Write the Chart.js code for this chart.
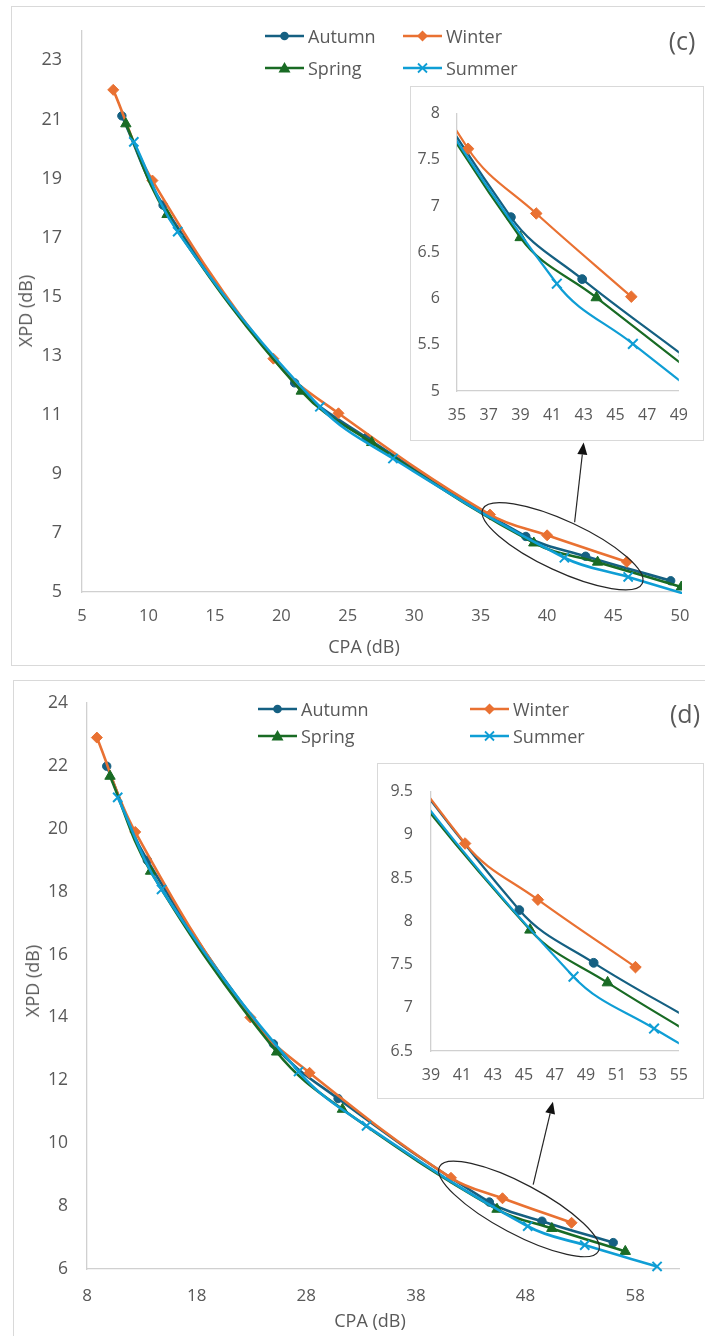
<!DOCTYPE html>
<html>
<head>
<meta charset="utf-8">
<script src="https://cdn.jsdelivr.net/npm/chart.js@4.4.1/dist/chart.umd.min.js"></script>
<style>
  body { margin: 0; width: 705px; height: 1336px; position: relative; overflow: hidden; background: #fff;
         font-family: "Open Sans", sans-serif; color: #595959; }
  .frame { position: absolute; border: 1px solid #d9d9d9; box-sizing: border-box; }
  .inset { position: absolute; background: #fff; border: 1px solid #d9d9d9; box-sizing: border-box; }
  canvas { position: absolute; }
  .leg { position: absolute; display: flex; align-items: center; height: 24px; font-size: 18px; white-space: nowrap; }
  .leg svg { margin-right: 4px; }
  .ttl { position: absolute; font-size: 18px; white-space: nowrap; transform: translate(-50%, -50%); }
  .ttl.rot { transform: translate(-50%, -50%) rotate(-90deg); }
  .tag { position: absolute; font-size: 25px; transform: translate(-50%, -50%); }
</style>
</head>
<body>
<div class="frame" style="left:11px;top:6px;width:720px;height:660px"></div>
<canvas id="cMain" width="705" height="668" style="left:0;top:0"></canvas>
<div class="inset" style="left:410px;top:86px;width:294px;height:355px">
  <canvas id="cInset" width="292" height="353" style="left:0;top:0"></canvas>
</div>

<div class="frame" style="left:13px;top:680px;width:720px;height:700px"></div>
<canvas id="dMain" width="705" height="666" style="left:0;top:670px"></canvas>
<div class="inset" style="left:377px;top:763px;width:327px;height:336px">
  <canvas id="dInset" width="325" height="334" style="left:0;top:0"></canvas>
</div>

<div class="ttl" style="left:364px;top:646px">CPA (dB)</div>
<div class="ttl rot" style="left:25px;top:311px">XPD (dB)</div>
<div class="tag" style="left:682px;top:40px">(c)</div>

<div class="ttl" style="left:370px;top:1320px">CPA (dB)</div>
<div class="ttl rot" style="left:32px;top:981px">XPD (dB)</div>
<div class="tag" style="left:685px;top:713px">(d)</div>

<script>
// ---- panel (c) ----
const cAutumnCpa = [8.0, 11.1, 21.0, 26.4, 38.4, 42.9, 49.3];
const cAutumnXpd = [21.12, 18.1, 12.08, 10.23, 6.88, 6.21, 5.38];
const cWinterCpa = [7.35, 10.3, 19.4, 24.3, 35.7, 40.0, 46.0];
const cWinterXpd = [22.0, 18.93, 12.9, 11.05, 7.62, 6.92, 6.02];
const cSpringCpa = [8.3, 11.4, 21.5, 26.8, 39.0, 43.8, 50.1];
const cSpringXpd = [20.85, 17.78, 11.8, 10.06, 6.66, 6.01, 5.17];
const cSummerCpa = [8.9, 12.2, 22.9, 28.4, 41.3, 46.1, 51.0];
const cSummerXpd = [20.24, 17.2, 11.27, 9.52, 6.16, 5.51, 4.85];

const cXTicks = [5, 10, 15, 20, 25, 30, 35, 40, 45, 50];
const cYTicks = [5, 7, 9, 11, 13, 15, 17, 19, 21, 23];
const cInsetXTicks = [35, 37, 39, 41, 43, 45, 47, 49];
const cInsetYTicks = [5, 5.5, 6, 6.5, 7, 7.5, 8];

// ---- panel (d) ----
const dAutumnCpa = [9.8, 13.5, 25.0, 30.9, 44.7, 49.5, 56.0];
const dAutumnXpd = [21.99, 19.0, 13.16, 11.42, 8.13, 7.52, 6.84];
const dWinterCpa = [8.9, 12.4, 22.9, 28.3, 41.2, 45.9, 52.2];
const dWinterXpd = [22.9, 19.9, 14.0, 12.24, 8.9, 8.25, 7.47];
const dSpringCpa = [10.1, 13.8, 25.3, 31.3, 45.4, 50.4, 57.1];
const dSpringXpd = [21.67, 18.65, 12.9, 11.08, 7.9, 7.29, 6.56];
const dSummerCpa = [10.8, 14.8, 27.3, 33.5, 48.2, 53.4, 60.0];
const dSummerXpd = [21.0, 18.07, 12.28, 10.55, 7.36, 6.76, 6.08];

const dXTicks = [8, 18, 28, 38, 48, 58];
const dYTicks = [6, 8, 10, 12, 14, 16, 18, 20, 22, 24];
const dInsetXTicks = [39, 41, 43, 45, 47, 49, 51, 53, 55];
const dInsetYTicks = [6.5, 7, 7.5, 8, 8.5, 9, 9.5];

const seasons = ['Autumn', 'Winter', 'Spring', 'Summer'];
const colors = { Autumn: '#156082', Winter: '#E97132', Spring: '#196B24', Summer: '#0F9ED5' };
const markers = { Autumn: 'circle', Winter: 'rectRot', Spring: 'triangle', Summer: 'crossRot' };
const markerSize = { Autumn: 4.2, Winter: 5.5, Spring: 6, Summer: 6.5 };
const drawOrder = { Autumn: 4, Winter: 3, Spring: 2, Summer: 1 };

const FONT = "'Open Sans', sans-serif";
const GREY = '#595959';

function toPoints(cpa, xpd) {
    return cpa.map((v, i) => ({ x: v, y: xpd[i] }));
}

// ellipse + arrow pointing to the zoomed inset
const callout = {
    id: 'callout',
    afterDatasetsDraw(chart, args, o) {
        if (!o || !o.center) return;
        const xs = chart.scales.x, ys = chart.scales.y, ctx = chart.ctx;
        ctx.save();
        ctx.strokeStyle = '#262626';
        ctx.fillStyle = '#111';
        ctx.lineWidth = 1.2;
        ctx.beginPath();
        ctx.ellipse(xs.getPixelForValue(o.center[0]), ys.getPixelForValue(o.center[1]),
            o.rx, o.ry, o.angle * Math.PI / 180, 0, Math.PI * 2);
        ctx.stroke();
        const x0 = xs.getPixelForValue(o.from[0]), y0 = ys.getPixelForValue(o.from[1]);
        const x1 = xs.getPixelForValue(o.to[0]), y1 = ys.getPixelForValue(o.to[1]);
        const a = Math.atan2(y1 - y0, x1 - x0);
        const hl = 12, hw = 5;
        const bx = x1 - hl * Math.cos(a), by = y1 - hl * Math.sin(a);
        ctx.beginPath();
        ctx.moveTo(x0, y0);
        ctx.lineTo(bx, by);
        ctx.stroke();
        ctx.beginPath();
        ctx.moveTo(x1, y1);
        ctx.lineTo(bx + hw * Math.sin(a), by - hw * Math.cos(a));
        ctx.lineTo(bx - hw * Math.sin(a), by + hw * Math.cos(a));
        ctx.closePath();
        ctx.fill();
        ctx.restore();
    }
};

function makeChart(id, series, s) {
    const datasets = seasons.map(name => ({
        label: name,
        data: toPoints(series[name][0], series[name][1]),
        showLine: true,
        borderColor: colors[name],
        backgroundColor: colors[name],
        borderWidth: s.lineWidth,
        tension: 0.38,
        pointStyle: markers[name],
        pointRadius: markerSize[name] * s.markerScale,
        pointBackgroundColor: colors[name],
        pointBorderColor: colors[name],
        pointBorderWidth: name === 'Summer' ? 2 : 1,
        order: drawOrder[name],
        clip: s.clip
    }));
    return new Chart(document.getElementById(id), {
        type: 'scatter',
        data: { datasets: datasets },
        options: {
            responsive: false,
            animation: false,
            devicePixelRatio: 1,
            events: [],
            layout: { padding: s.padding },
            elements: { line: { capBezierPoints: false } },
            plugins: {
                legend: { display: false },
                tooltip: { enabled: false },
                callout: s.callout || {}
            },
            scales: {
                x: {
                    type: 'linear', min: s.x[0], max: s.x[1],
                    grid: { display: false, drawTicks: false },
                    border: { display: true, color: '#d0d0d0', width: 1.3 },
                    ticks: { color: GREY, font: { family: FONT, size: s.xFont }, padding: s.xPad, maxRotation: 0, callback: v => String(v) },
                    afterBuildTicks: ax => { ax.ticks = s.xTicks.map(v => ({ value: v })); },
                    afterFit: ax => { ax.height = s.xH; }
                },
                y: {
                    type: 'linear', min: s.y[0], max: s.y[1],
                    grid: { display: false, drawTicks: false },
                    border: { display: true, color: '#d0d0d0', width: 1.3 },
                    ticks: { color: GREY, font: { family: FONT, size: s.yFont }, padding: s.yPad, callback: v => String(v) },
                    afterBuildTicks: ax => { ax.ticks = s.yTicks.map(v => ({ value: v })); },
                    afterFit: ax => { ax.width = s.yW; }
                }
            }
        },
        plugins: [callout]
    });
}

const cSeries = {
    Autumn: [cAutumnCpa, cAutumnXpd], Winter: [cWinterCpa, cWinterXpd],
    Spring: [cSpringCpa, cSpringXpd], Summer: [cSummerCpa, cSummerXpd]
};
const dSeries = {
    Autumn: [dAutumnCpa, dAutumnXpd], Winter: [dWinterCpa, dWinterXpd],
    Spring: [dSpringCpa, dSpringXpd], Summer: [dSummerCpa, dSummerXpd]
};

makeChart('cMain', cSeries, {
    x: [5, 50], y: [5, 24], xTicks: cXTicks, yTicks: cYTicks,
    padding: { left: 22, right: 25, top: 29, bottom: 36 }, yW: 60, xH: 40,
    xPad: 14, yPad: 20, xFont: 16.5, yFont: 18, lineWidth: 2.6, markerScale: 1,
    clip: { left: 10, top: 10, right: 2, bottom: 2 },
    callout: { center: [41.16, 6.55], rx: 88, ry: 25, angle: 25, from: [42.07, 7.36], to: [42.75, 10.06] }
});
makeChart('cInset', cSeries, {
    x: [35, 49], y: [5, 8], xTicks: cInsetXTicks, yTicks: cInsetYTicks,
    padding: { left: 0, right: 24, top: 21, bottom: 19 }, yW: 46, xH: 30,
    xPad: 15, yPad: 17, xFont: 16, yFont: 16, lineWidth: 2.2, markerScale: 1.05,
    clip: 0
});
makeChart('dMain', dSeries, {
    x: [8, 62], y: [6, 24], xTicks: dXTicks, yTicks: dYTicks,
    padding: { left: 27, right: 26, top: 33, bottom: 27 }, yW: 60, xH: 40,
    xPad: 17, yPad: 19, xFont: 17, yFont: 17.5, lineWidth: 2.6, markerScale: 1,
    clip: { left: 10, top: 10, right: 2, bottom: 10 },
    callout: { center: [47.4, 7.91], rx: 90, ry: 25, angle: 28, from: [48.7, 8.68], to: [50.5, 11.32] }
});
makeChart('dInset', dSeries, {
    x: [39, 55], y: [6.5, 9.5], xTicks: dInsetXTicks, yTicks: dInsetYTicks,
    padding: { left: 0, right: 24, top: 19, bottom: 17 }, yW: 53, xH: 30,
    xPad: 15, yPad: 18, xFont: 16, yFont: 16, lineWidth: 2.2, markerScale: 1.05,
    clip: 0
});

// legends: line with marker, as in the spreadsheet legend
function symbolSvg(name) {
    const c = colors[name];
    let m = '';
    if (name === 'Autumn') m = `<circle cx="19.5" cy="7" r="4.3" fill="${c}"/>`;
    if (name === 'Winter') m = `<polygon points="19.5,1.5 25,7 19.5,12.5 14,7" fill="${c}"/>`;
    if (name === 'Spring') m = `<polygon points="19.5,1 25.5,11.5 13.5,11.5" fill="${c}"/>`;
    if (name === 'Summer') m = `<path d="M15,2.5 L24,11.5 M24,2.5 L15,11.5" stroke="${c}" stroke-width="1.8"/>`;
    return `<svg width="39" height="14" viewBox="0 0 39 14"><line x1="0" y1="7" x2="39" y2="7" stroke="${c}" stroke-width="2.6"/>${m}</svg>`;
}
function addLegend(cols, rows) {
    const pos = [[0, 0], [1, 0], [0, 1], [1, 1]];
    seasons.forEach((name, i) => {
        const el = document.createElement('div');
        el.className = 'leg';
        el.style.left = cols[pos[i][0]] + 'px';
        el.style.top = (rows[pos[i][1]] - 12) + 'px';
        el.innerHTML = symbolSvg(name) + '<span>' + name + '</span>';
        document.body.appendChild(el);
    });
}
addLegend([265, 403], [36, 68]);
addLegend([258, 470], [709, 736]);
</script>
</body>
</html>
